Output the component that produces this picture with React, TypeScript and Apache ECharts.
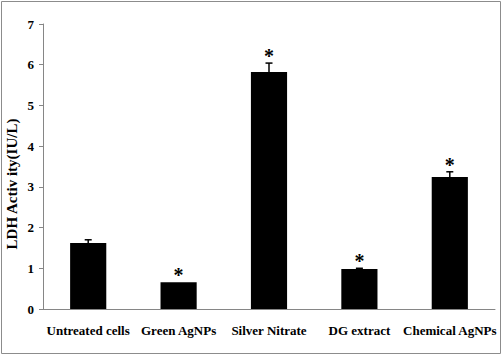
import React, { useEffect, useRef } from "react";
import * as echarts from "echarts";

const categories = ["Untreated cells", "Green AgNPs", "Silver Nitrate", "DG extract", "Chemical AgNPs"];
const values = [1.62, 0.66, 5.82, 0.98, 3.24];
const errors = [0.08, 0.0, 0.22, 0.02, 0.13];
const significant = [false, true, true, true, true];
const yTicks = [0, 1, 2, 3, 4, 5, 6, 7];

const FONT = "'Liberation Serif', 'Times New Roman', serif";

export default function App() {
  const ref = useRef<HTMLDivElement>(null);
  useEffect(() => {
    if (!ref.current) return;
    const chart = echarts.init(ref.current, undefined, { renderer: "svg" });
    const errData = values.map((v, i) => [i, v, errors[i], significant[i] ? 1 : 0]);
    chart.setOption({
      animation: false,
      backgroundColor: "#fff",
      grid: { left: 43, right: 7, top: 24, bottom: 48 },
      graphic: [
        {
          type: "rect",
          shape: { x: 1.5, y: 1.5, width: 499, height: 352 },
          style: { fill: "none", stroke: "#8c8c8c", lineWidth: 1 },
          silent: true,
        },
        {
          type: "text",
          x: 12,
          y: 184,
          rotation: Math.PI / 2,
          style: {
            text: "LDH Activ ity(IU/L)",
            font: `bold 15px ${FONT}`,
            fill: "#000",
            align: "center",
            verticalAlign: "middle",
          },
        },
      ],
      xAxis: {
        type: "category",
        data: categories,
        axisLine: { lineStyle: { color: "#868686", width: 1 } },
        axisTick: { show: false },
        axisLabel: {
          color: "#000",
          fontFamily: FONT,
          fontWeight: "bold",
          fontSize: 13,
          margin: 15,
          interval: 0,
        },
      },
      yAxis: {
        type: "value",
        min: yTicks[0],
        max: yTicks[yTicks.length - 1],
        interval: 1,
        splitLine: { show: false },
        axisLine: { show: true, lineStyle: { color: "#868686", width: 1 } },
        axisTick: { show: true, length: 4, lineStyle: { color: "#868686" } },
        axisLabel: {
          color: "#000",
          fontFamily: FONT,
          fontWeight: "bold",
          fontSize: 13,
          margin: 9,
        },
      },
      series: [
        {
          type: "bar",
          data: values,
          barWidth: "40%",
          itemStyle: { color: "#000" },
          silent: true,
        },
        {
          type: "custom",
          data: errData,
          z: 5,
          silent: true,
          renderItem: (params: any, api: any) => {
            const i = api.value(0);
            const v = api.value(1);
            const e = api.value(2);
            const sig = api.value(3);
            const base = api.coord([i, v]);
            const top = api.coord([i, v + e]);
            const children: any[] = [];
            if (e > 0) {
              children.push({
                type: "line",
                shape: { x1: base[0], y1: base[1], x2: top[0], y2: top[1] },
                style: { stroke: "#000", lineWidth: 1.5 },
              });
              children.push({
                type: "line",
                shape: { x1: top[0] - 3.5, y1: top[1], x2: top[0] + 3.5, y2: top[1] },
                style: { stroke: "#000", lineWidth: 1.5 },
              });
            }
            if (sig) {
              children.push({
                type: "text",
                x: top[0],
                y: top[1] + 3,
                style: {
                  text: "*",
                  font: `bold 20px ${FONT}`,
                  fill: "#000",
                  align: "center",
                  verticalAlign: "bottom",
                },
              });
            }
            return { type: "group", children };
          },
        },
      ],
    });
    return () => chart.dispose();
  }, []);
  return (
    <div
      ref={ref}
      style={{ position: "fixed", left: 0, top: 0, width: 502, height: 357 }}
    />
  );
}
